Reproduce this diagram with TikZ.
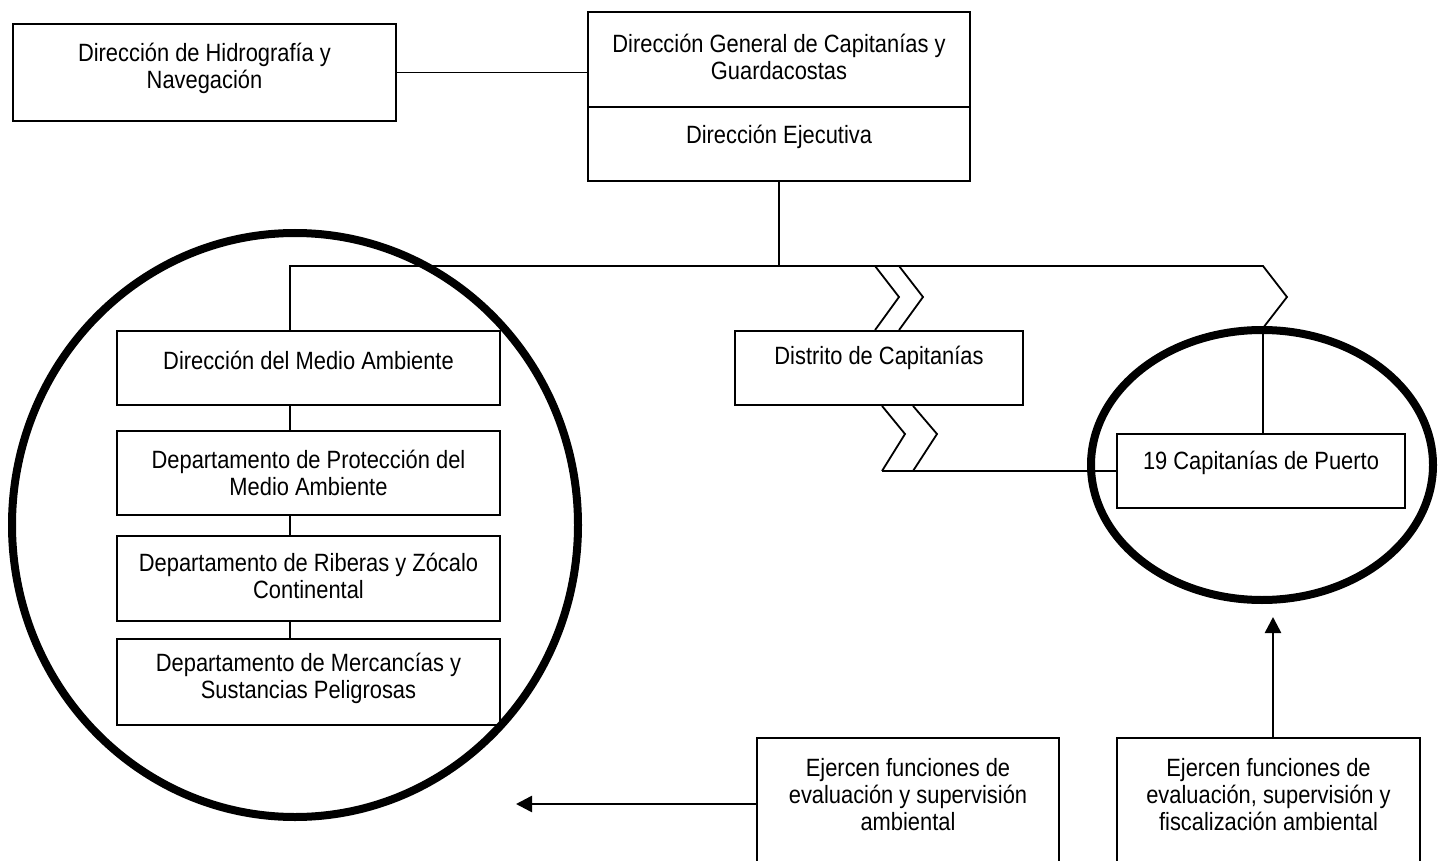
\documentclass[tikz,border=0pt]{standalone}
\usepackage{fontspec}
\setmainfont{Liberation Sans}[FakeStretch=0.875]
\usetikzlibrary{arrows.meta,shapes.geometric}
\begin{document}
\begin{tikzpicture}[x=1pt,y=-1pt,
  box/.style={draw, line width=1.8pt, inner sep=0pt},
  txt/.style={font=\fontsize{25pt}{27pt}\selectfont, align=center, inner sep=0pt},
  conn/.style={line width=1.8pt},
  arr/.style={line width=2.6pt, -{Triangle[length=16pt,width=16pt]}},
  ring/.style={draw, ellipse, line width=8pt, inner sep=0pt}]
\useasboundingbox (0,0) rectangle (1441,861);
\clip (0,0) rectangle (1441,861);
% boxes
\node[box, minimum width=383pt, minimum height=97pt] (hid) at (204.5,72.5) {};
\node[box, minimum width=382pt, minimum height=95pt] (dg) at (779,59.5) {};
\node[box, minimum width=382pt, minimum height=74pt] (de) at (779,144) {};
\node[box, minimum width=288pt, minimum height=74pt] (dist) at (879,368) {};
\node[box, minimum width=288pt, minimum height=74pt] (cap) at (1261,471) {};
\node[box, minimum width=383pt, minimum height=74pt] (ma) at (308.5,368) {};
\node[box, minimum width=383pt, minimum height=84pt] (prot) at (308.5,473) {};
\node[box, minimum width=383pt, minimum height=85pt] (rib) at (308.5,578.5) {};
\node[box, minimum width=383pt, minimum height=86pt] (merc) at (308.5,682) {};
\node[box, minimum width=302pt, minimum height=132pt] (ev1) at (908,804) {};
\node[box, minimum width=303pt, minimum height=132pt] (ev2) at (1268.5,804) {};
% texts
\node[txt] (thid) at ([yshift=4pt]hid.center) {Dirección de Hidrografía y\\Navegación};
\node[txt] (tdg) at ([yshift=3pt]dg.center) {Dirección General de Capitanías y\\Guardacostas};
\node[txt] (tde) at ([yshift=7pt]de.center) {Dirección Ejecutiva};
\node[txt] (tdist) at ([yshift=10pt]dist.center) {Distrito de Capitanías};
\node[txt] (tcap) at ([yshift=8pt]cap.center) {19 Capitanías de Puerto};
\node[txt] (tma) at ([yshift=8pt]ma.center) {Dirección del Medio Ambiente};
\node[txt] (tprot) at ([yshift=0pt]prot.center) {Departamento de Protección del\\Medio Ambiente};
\node[txt] (trib) at ([yshift=3pt]rib.center) {Departamento de Riberas y Zócalo\\Continental};
\node[txt] (tmerc) at ([yshift=4pt]merc.center) {Departamento de Mercancías y\\Sustancias Peligrosas};
\node[txt] (tev1) at ([yshift=9pt]ev1.center) {Ejercen funciones de\\evaluación y supervisión\\ambiental};
\node[txt] (tev2) at ([yshift=9pt]ev2.center) {Ejercen funciones de\\evaluación, supervisión y\\fiscalización ambiental};
% rings
\node[ring, minimum width=566pt, minimum height=584pt] (ringL) at (295,525) {};
\node[ring, minimum width=342pt, minimum height=270pt] (ringR) at (1262,465) {};
% bus coordinates
\coordinate (busL) at (290,266);
\coordinate (busR) at (1263,266);
\coordinate (tip1) at (516,804);
\coordinate (tip2) at (1273,617);
% connectors
\draw[conn] (hid.east) -- (hid.east -| dg.west);
\draw[conn] (de.south) -- (de.south |- busL);
\draw[conn] (busL |- ma.north) -- (busL) -- (busR) -- (1287,297) -- (1263,328) -- (busR |- cap.north);
\draw[conn] (busL |- ma.south) -- (busL |- prot.north);
\draw[conn] (busL |- prot.south) -- (busL |- rib.north);
\draw[conn] (busL |- rib.south) -- (busL |- merc.north);
% break marks to Distrito
\coordinate (c1) at (875,266);
\coordinate (c2) at (899,266);
\coordinate (c3) at (882,405);
\coordinate (c4) at (913,405);
\draw[conn] (c1) -- (899,297) -- (c1 |- dist.north);
\draw[conn] (c2) -- (923,297) -- (c2 |- dist.north);
\draw[conn] (c3 |- dist.south) -- (905,434) -- (c3 |- cap.west);
\draw[conn] (c4 |- dist.south) -- (937,434) -- (c4 |- cap.west);
\draw[conn] (c3 |- cap.west) -- (cap.west);
% arrows
\draw[arr] (tip1 -| ev1.west) -- (tip1);
\draw[arr] (tip2 |- ev2.north) -- (tip2);
\end{tikzpicture}
\end{document}
